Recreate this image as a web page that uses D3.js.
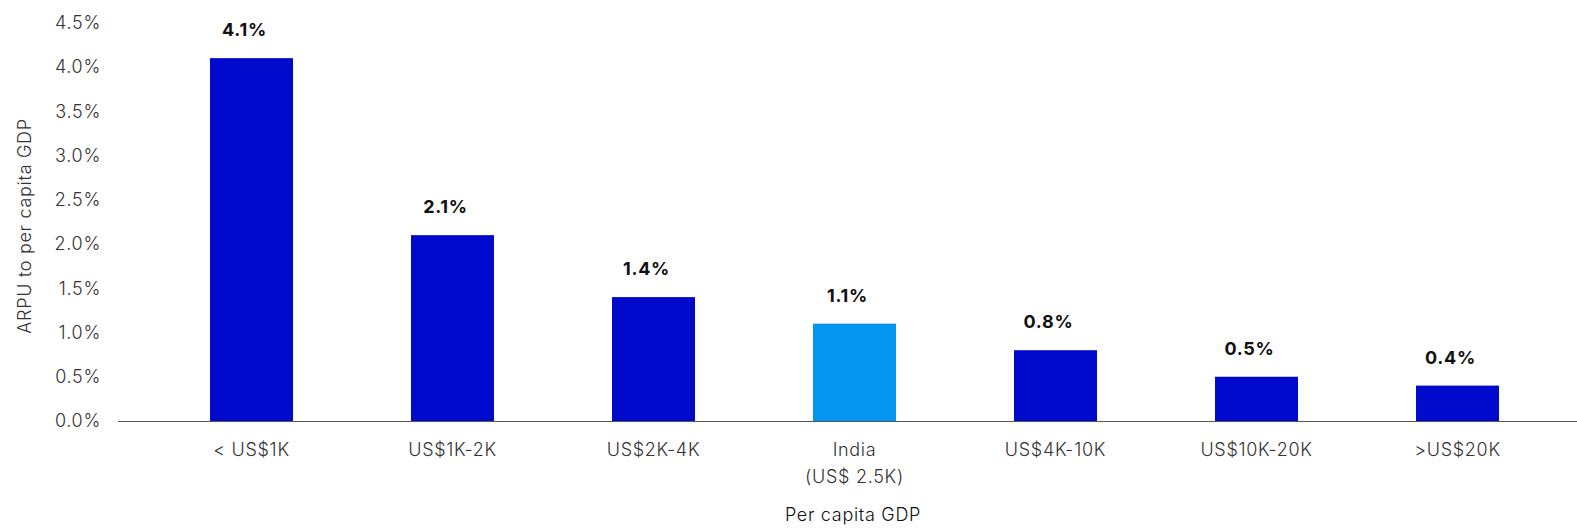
<!DOCTYPE html>
<html>
<head>
<meta charset="utf-8">
<script src="https://cdn.jsdelivr.net/npm/d3@7"></script>
<style>
  html, body { margin: 0; padding: 0; background: #fff; }
  svg { display: block; font-family: Inter, "Noto Sans", sans-serif; }
  .lbl { letter-spacing: 0.7px; }
</style>
</head>
<body>
<svg id="chart" width="1577" height="532"></svg>
<script>
// GDP-per-capita bands and ARPU as a share of per capita GDP (%)
const categories = ["< US$1K", "US$1K-2K", "US$2K-4K", "India\n(US$ 2.5K)", "US$4K-10K", "US$10K-20K", ">US$20K"];
const arpuShare = [4.1, 2.1, 1.4, 1.1, 0.8, 0.5, 0.4];
const highlighted = ["India\n(US$ 2.5K)"];
const yTicks = [0, 0.5, 1.0, 1.5, 2.0, 2.5, 3.0, 3.5, 4.0, 4.5];

const svg = d3.select("#chart");

const baseY = 421, topY = 22.75;
const y = d3.scaleLinear().domain([0, 4.5]).range([baseY, topY]);
const x = d3.scaleBand()
  .domain(categories)
  .range([151, 1558])
  .paddingInner(0.587)
  .paddingOuter(0.2935);

const fmtTick = d3.format(".1f");

// y axis: labels only
const yAxis = d3.axisLeft(y).tickValues(yTicks).tickSize(0).tickPadding(0)
  .tickFormat(d => fmtTick(d) + "%");
const yg = svg.append("g").attr("transform", "translate(101,0)").call(yAxis);
yg.select(".domain").remove();
yg.selectAll("text")
  .attr("class", "lbl")
  .attr("font-family", "Inter, 'Noto Sans', sans-serif")
  .attr("font-size", 18).attr("font-weight", 300).attr("fill", "#333");

// bars
svg.append("g").selectAll("rect")
  .data(categories)
  .join("rect")
  .attr("x", d => x(d))
  .attr("width", x.bandwidth())
  .attr("y", (d, i) => y(arpuShare[i]))
  .attr("height", (d, i) => y(0) - y(arpuShare[i]))
  .attr("fill", d => highlighted.includes(d) ? "#0495F0" : "#000ACD");

// baseline
svg.append("line")
  .attr("x1", 118).attr("x2", 1577)
  .attr("y1", baseY + 0.5).attr("y2", baseY + 0.5)
  .attr("stroke", "#555").attr("stroke-width", 1.2);

// value labels
svg.append("g").selectAll("text")
  .data(categories)
  .join("text")
  .attr("class", "lbl")
  .attr("x", d => x(d) + x.bandwidth() / 2 - 7)
  .attr("y", (d, i) => y(arpuShare[i]) - 22)
  .attr("text-anchor", "middle")
  .attr("font-size", 18).attr("font-weight", 700).attr("fill", "#111")
  .text((d, i) => fmtTick(arpuShare[i]) + "%");

// x axis category labels
const xg = svg.append("g").selectAll("text")
  .data(categories)
  .join("text")
  .attr("class", "lbl")
  .attr("text-anchor", "middle")
  .attr("font-size", 18).attr("font-weight", 300).attr("fill", "#333")
  .attr("transform", d => `translate(${x(d) + x.bandwidth() / 2},456)`);
xg.selectAll("tspan")
  .data(d => d.split("\n"))
  .join("tspan")
  .attr("x", 0)
  .attr("y", (d, i) => i * 27)
  .text(d => d);

// axis titles
svg.append("text")
  .attr("class", "lbl")
  .attr("transform", "translate(31,226) rotate(-90)")
  .attr("text-anchor", "middle")
  .attr("font-size", 18).attr("font-weight", 300).attr("fill", "#333")
  .text("ARPU to per capita GDP");

svg.append("text")
  .attr("class", "lbl")
  .attr("x", 853).attr("y", 521)
  .attr("text-anchor", "middle")
  .attr("font-size", 18).attr("font-weight", 300).attr("fill", "#111")
  .text("Per capita GDP");
</script>
</body>
</html>
